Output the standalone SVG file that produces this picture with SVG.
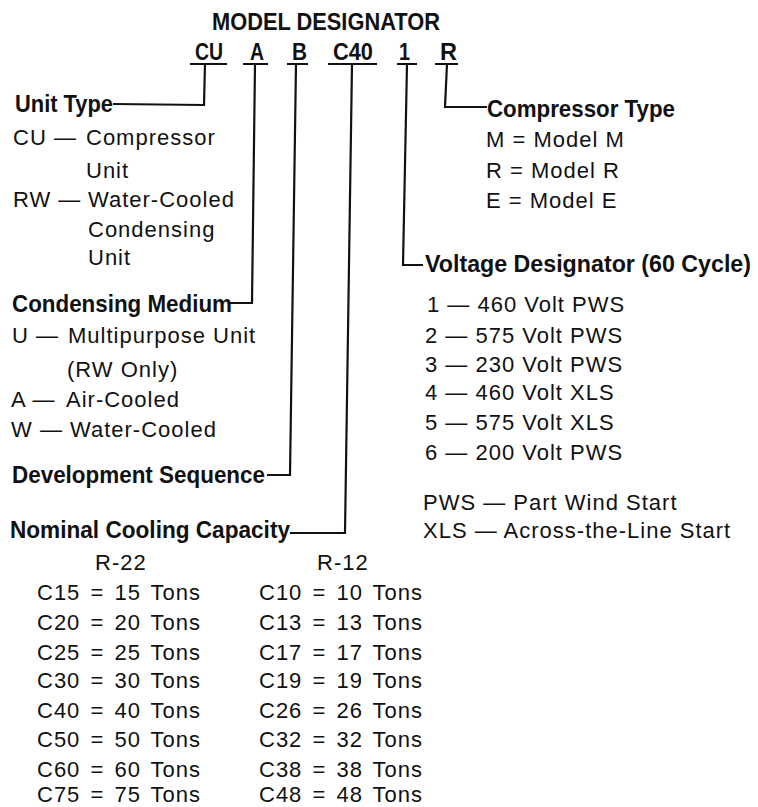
<svg xmlns="http://www.w3.org/2000/svg" width="758" height="807" viewBox="0 0 758 807">
<style>
.t{font-family:"Liberation Sans",Arial,sans-serif;font-size:22px;letter-spacing:1px;fill:#111}
.w{word-spacing:3px}
.h{font-family:"Liberation Sans",Arial,sans-serif;font-size:24px;font-weight:bold;fill:#111}
.c{font-family:"Liberation Sans",Arial,sans-serif;font-size:24px;font-weight:bold;fill:#111}
.ln{fill:none;stroke:#111;stroke-width:2.2;stroke-linejoin:miter}
</style>
<rect width="758" height="807" fill="#fff"/>
<g id="title">
<text class="c" x="212" y="30" textLength="228" lengthAdjust="spacingAndGlyphs">MODEL DESIGNATOR</text>
<text class="c" x="195" y="60" textLength="28" lengthAdjust="spacingAndGlyphs">CU</text>
<text class="c" x="250" y="60" textLength="14" lengthAdjust="spacingAndGlyphs">A</text>
<text class="c" x="292" y="60" textLength="15" lengthAdjust="spacingAndGlyphs">B</text>
<text class="c" x="333" y="60" textLength="40" lengthAdjust="spacingAndGlyphs">C40</text>
<text class="c" x="399" y="60" textLength="11" lengthAdjust="spacingAndGlyphs">1</text>
<text class="c" x="440" y="60" textLength="17" lengthAdjust="spacingAndGlyphs">R</text>
</g>
<g id="connectors">
<path class="ln" d="M190,64H227M205,64L204,105L113,104"/>
<path class="ln" d="M243,64H268M255,64L252,303L230,303"/>
<path class="ln" d="M287,64H308M296,64L290,475L267,475"/>
<path class="ln" d="M328,64H377M352,64L345,533L290,533"/>
<path class="ln" d="M397,64H417M407,64L403,265L423,265"/>
<path class="ln" d="M435,64H458M447,64L445,107L487,107"/>
</g>
<g id="unit-type">
<text class="h" x="15" y="112" textLength="98" lengthAdjust="spacingAndGlyphs">Unit Type</text>
<text class="t" x="13" y="145">CU — <tspan x="86">Compressor</tspan></text>
<text class="t" x="86" y="178">Unit</text>
<text class="t" x="13" y="207">RW — <tspan x="88">Water-Cooled</tspan></text>
<text class="t" x="88" y="237">Condensing</text>
<text class="t" x="88" y="265">Unit</text>
</g>
<g id="condensing-medium">
<text class="h" x="12" y="312" textLength="220" lengthAdjust="spacingAndGlyphs">Condensing Medium</text>
<text class="t" x="12" y="343">U — <tspan x="68">Multipurpose Unit</tspan></text>
<text class="t" x="67" y="377">(RW Only)</text>
<text class="t" x="11" y="407">A — <tspan x="66">Air-Cooled</tspan></text>
<text class="t" x="11" y="437">W — <tspan x="70">Water-Cooled</tspan></text>
</g>
<g id="development-sequence">
<text class="h" x="12" y="483" textLength="253" lengthAdjust="spacingAndGlyphs">Development Sequence</text>
</g>
<g id="nominal-cooling-capacity">
<text class="h" x="10" y="538" textLength="280" lengthAdjust="spacingAndGlyphs">Nominal Cooling Capacity</text>
<text class="t" x="95" y="570">R-22</text>
<text class="t" x="317" y="570">R-12</text>
<text class="t w" x="37" y="600">C15 = 15 Tons</text>
<text class="t w" x="37" y="630">C20 = 20 Tons</text>
<text class="t w" x="37" y="660">C25 = 25 Tons</text>
<text class="t w" x="37" y="688">C30 = 30 Tons</text>
<text class="t w" x="37" y="718">C40 = 40 Tons</text>
<text class="t w" x="37" y="747">C50 = 50 Tons</text>
<text class="t w" x="37" y="777">C60 = 60 Tons</text>
<text class="t w" x="37" y="802">C75 = 75 Tons</text>
<text class="t w" x="259" y="600">C10 = 10 Tons</text>
<text class="t w" x="259" y="630">C13 = 13 Tons</text>
<text class="t w" x="259" y="660">C17 = 17 Tons</text>
<text class="t w" x="259" y="688">C19 = 19 Tons</text>
<text class="t w" x="259" y="718">C26 = 26 Tons</text>
<text class="t w" x="259" y="747">C32 = 32 Tons</text>
<text class="t w" x="259" y="777">C38 = 38 Tons</text>
<text class="t w" x="259" y="802">C48 = 48 Tons</text>
</g>
<g id="compressor-type">
<text class="h" x="487" y="117" textLength="188" lengthAdjust="spacingAndGlyphs">Compressor Type</text>
<text class="t" x="486" y="147">M = Model M</text>
<text class="t" x="486" y="178">R = Model R</text>
<text class="t" x="486" y="208">E = Model E</text>
</g>
<g id="voltage-designator">
<text class="h" x="425" y="272" style="font-size:23px" textLength="326" lengthAdjust="spacingAndGlyphs">Voltage Designator (60 Cycle)</text>
<text class="t" x="427" y="312">1 — 460 Volt PWS</text>
<text class="t" x="425" y="343">2 — 575 Volt PWS</text>
<text class="t" x="425" y="372">3 — 230 Volt PWS</text>
<text class="t" x="425" y="400">4 — 460 Volt XLS</text>
<text class="t" x="425" y="430">5 — 575 Volt XLS</text>
<text class="t" x="425" y="460">6 — 200 Volt PWS</text>
<text class="t" x="423" y="510">PWS — Part Wind Start</text>
<text class="t" x="423" y="538">XLS — Across-the-Line Start</text>
</g>
</svg>
